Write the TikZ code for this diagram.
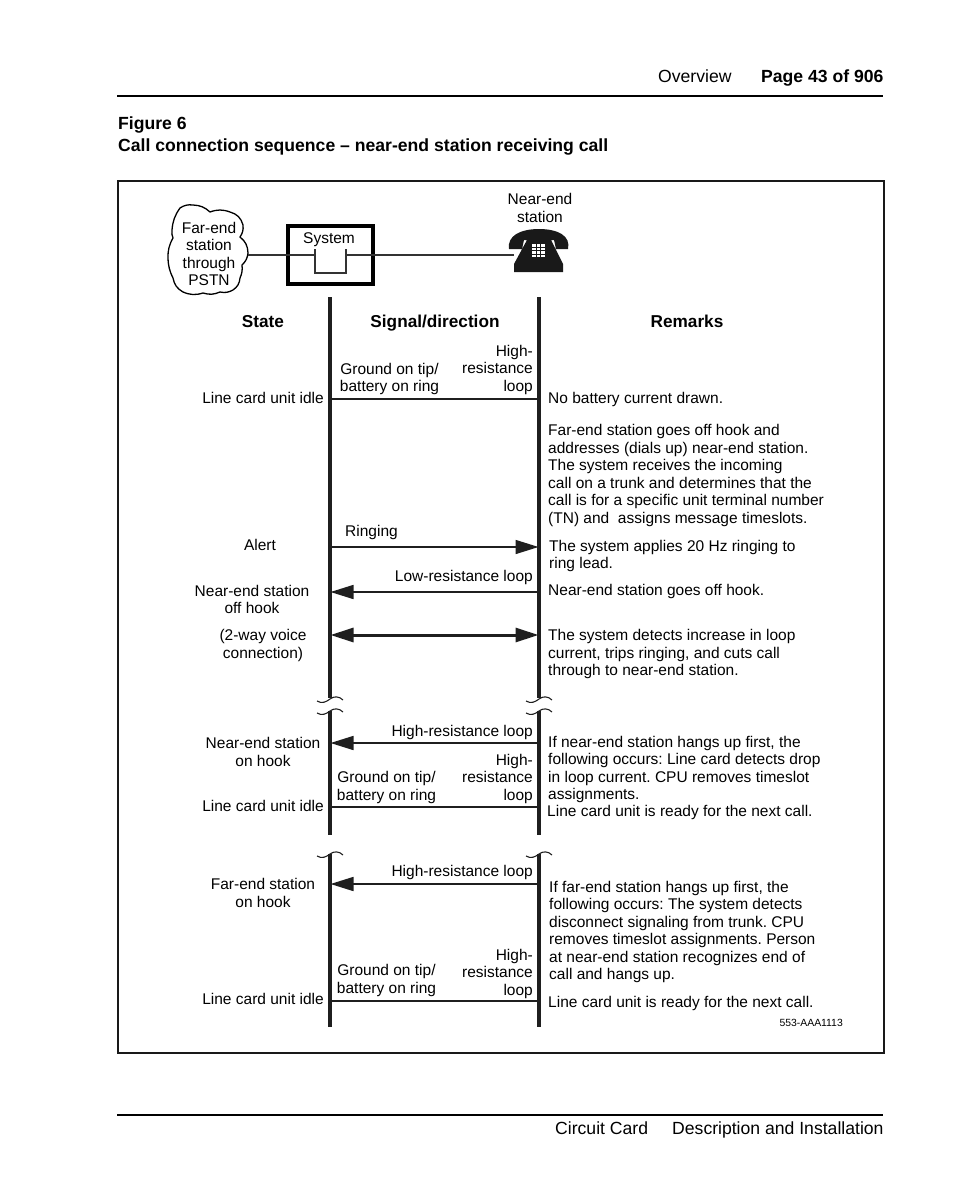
\documentclass[tikz,border=0pt]{standalone}
\usepackage{fontspec}
\setmainfont{Liberation Sans}
\usetikzlibrary{arrows.meta,positioning}
\newcommand{\linestrut}{\rule[-3.5pt]{0pt}{13.5pt}}
\tikzset{
    % Text in the diagram
    plaintext/.style={inner sep=0pt, yshift=-2pt, font=\fontsize{15.5}{17.5}\selectfont\frenchspacing,
        execute at begin node=\linestrut, execute at end node=\linestrut},
    lefttext/.style={plaintext, anchor=west, align=left},
    righttext/.style={plaintext, anchor=east, align=right},
    midtext/.style={plaintext, anchor=center, align=center},
    headtext/.style={plaintext, anchor=center, font=\fontsize{17.2}{20}\selectfont\bfseries},
    pagetext/.style={plaintext, anchor=west, font=\fontsize{17.6}{22}\selectfont},
    pagebold/.style={pagetext, font=\fontsize{17.6}{22}\selectfont\bfseries},
    lifeline/.style={line width=3.2pt, color=black!88},
    signal/.style={line width=1.6pt, color=black!88},
    voicesignal/.style={line width=3pt, color=black!88},
    signalarrow/.style={-{Triangle[length=23pt,width=14pt]}, shorten >=0.5pt},
    breakline/.style={line width=1.1pt, color=black!88},
    wire/.style={line width=1.3pt, color=black!80},
    rule/.style={line width=1.6pt, color=black}
}
\newcommand{\breakmark}[2]{
    \draw[breakline] (#1-13,#2+2) .. controls (#1-8,#2+5) and (#1-4,#2+3) .. (#1,#2)
        .. controls (#1+4,#2-3) and (#1+9,#2-3) .. (#1+13,#2+1);
}
\begin{document}
\begin{tikzpicture}[x=1pt,y=-1pt]
    \useasboundingbox (0,0) rectangle (954,1202);

    % Page header and footer
    \node[pagetext] (overview) at (658,76) {Overview};
    \node[pagebold] (page) at (761,76) {Page 43 of 906};
    \coordinate (ruletopL) at (117,96);
    \coordinate (ruletopR) at (883,96);
    \draw[rule] (ruletopL) -- (ruletopR);
    \node[pagebold] (figno) at (118,123) {Figure 6};
    \node[pagebold] (figtitle) at (118,145) {Call connection sequence – near-end station receiving call};
    \coordinate (rulebotL) at (117,1115);
    \coordinate (rulebotR) at (883,1115);
    \draw[rule] (rulebotL) -- (rulebotR);
    \node[pagetext] (card) at (555,1128) {Circuit Card};
    \node[pagetext] (descr) at (672,1128) {Description and Installation};

    % Frame
    \draw[line width=1.8pt, color=black!90] (118,181) rectangle (884,1053);

    % Cloud, system and telephone
    \draw[line width=1.3pt]
        (180,208) to[bend left=20] (193,205) to[bend left=20] (210,212) to[bend left=20] (230,212)
        to[bend left=30] (243,225) to[bend left=20] (240,237) to[bend left=25] (248,253)
        to[bend left=20] (242,265) to[bend left=15] (240,278) to[bend left=25] (233,290)
        to[bend left=20] (220,292) to[bend left=20] (203,293) to[bend left=20] (183,292)
        to[bend left=25] (173,278) to[bend left=12] (168,258) to[bend left=15] (173,238)
        to[bend left=15] (172,230) to[bend left=15] cycle;
    \node[midtext] (farend) at (209,253.5) {Far-end\\station\\through\\PSTN};
    \node[midtext] (system) at (329,238) {System};
    \draw[line width=3.5pt] (288,226) rectangle (373,284);
    \node[midtext] (nearend) at (540,207.5) {Near-end\\station};

    \coordinate (cloudout) at (248,255);
    \coordinate (swL) at (315,255);
    \coordinate (swR) at (346,255);
    \coordinate (phone) at (514,255);
    \draw[wire] (cloudout) -- (swL);
    \draw[wire] (swR) -- (phone);
    \draw[wire] (315,249) -- (315,273) -- (346,273) -- (346,249);

    \fill[black!90] (509,249) .. controls (507,236) and (520,229) .. (539,229)
        .. controls (558,229) and (571,236) .. (568,249)
        -- (556,249) -- (554,240) -- (551,240) -- (563,264) -- (563,272) -- (514,272) -- (514,264)
        -- (527,240) -- (524,240) -- (522,249) -- cycle;
    \fill[white] (532,244) rectangle (545,257);
    \foreach \k in {1,2} {
        \draw[black!90, line width=0.5pt] (532+4.33*\k,244) -- (532+4.33*\k,257);
    }
    \foreach \k in {1,2,3} {
        \draw[black!90, line width=0.5pt] (532,244+3.25*\k) -- (545,244+3.25*\k);
    }

    % Column heads
    \node[headtext] (state) at (263,321) {State};
    \node[headtext] (sigdir) at (435,321) {Signal/direction};
    \node[headtext] (remarks) at (687,321) {Remarks};

    % Lifelines
    \foreach \name/\x in {L/330,R/539} {
        \coordinate (top\name) at (\x,297);
        \coordinate (breaka\name) at (\x,698);
        \coordinate (breakb\name) at (\x,711);
        \coordinate (endb\name) at (\x,835);
        \coordinate (topc\name) at (\x,854);
        \coordinate (endc\name) at (\x,1027);
        \draw[lifeline] (top\name) -- (breaka\name);
        \draw[lifeline] (breakb\name) -- (endb\name);
        \draw[lifeline] (topc\name) -- (endc\name);
        \breakmark{\x}{699}
        \breakmark{\x}{711}
        \breakmark{\x}{854}
    }

    % Signals
    \foreach \name/\y in {idle/399,ring/547,low/592,voice/635,higha/743,idleb/807,highb/884,idlec/1001} {
        \coordinate (\name L) at (330,\y);
        \coordinate (\name R) at (539,\y);
    }
    \draw[signal] (idleL) -- (idleR);
    \draw[signal, signalarrow] (ringL) -- (ringR);
    \draw[signal, signalarrow] (lowR) -- (lowL);
    \draw[voicesignal, {Triangle[length=23pt,width=14pt]}-{Triangle[length=23pt,width=14pt]}, shorten >=0.5pt, shorten <=0.5pt] (voiceL) -- (voiceR);
    \draw[signal, signalarrow] (highaR) -- (highaL);
    \draw[signal] (idlebL) -- (idlebR);
    \draw[signal, signalarrow] (highbR) -- (highbL);
    \draw[signal] (idlecL) -- (idlecR);

    % State labels
    \node[righttext] (idlea) at (324,398) {Line card unit idle};
    \node[midtext] (alert) at (260,545) {Alert};
    \node[midtext] (offhook) at (252,599) {Near-end station\\off hook};
    \node[midtext] (twoway) at (263,643.5) {(2-way voice\\connection)};
    \node[midtext] (nearon) at (263,751.5) {Near-end station\\on hook};
    \node[righttext] (idleblabel) at (324,806) {Line card unit idle};
    \node[midtext] (faron) at (263,892.5) {Far-end station\\on hook};
    \node[righttext] (idleclabel) at (324,999) {Line card unit idle};

    % Signal labels
    \node[righttext] (hiresa) at (533,368) {High-\\resistance\\loop};
    \node[midtext] (grounda) at (389.5,377) {Ground on tip/\\battery on ring};
    \node[lefttext] (ringing) at (345,531) {Ringing};
    \node[righttext] (lowres) at (533,576) {Low-resistance loop};
    \node[righttext] (hiresb) at (533,731) {High-resistance loop};
    \node[righttext] (hiresc) at (533,777) {High-\\resistance\\loop};
    \node[midtext] (groundb) at (386.5,785.5) {Ground on tip/\\battery on ring};
    \node[righttext] (hiresd) at (533,871) {High-resistance loop};
    \node[righttext] (hirese) at (533,972) {High-\\resistance\\loop};
    \node[midtext] (groundc) at (386.5,978.5) {Ground on tip/\\battery on ring};

    % Remarks
    \node[lefttext] (rema) at (548,398) {No battery current drawn.};
    \node[lefttext] (remb) at (548,473.5) {Far-end station goes off hook and\\addresses (dials up) near-end station.\\The system receives the incoming\\call on a trunk and determines that the\\call is for a specific unit terminal number\\(TN) and\ \ assigns message timeslots.};
    \node[lefttext] (remc) at (549,554) {The system applies 20 Hz ringing to\\ring lead.};
    \node[lefttext] (remd) at (548,590) {Near-end station goes off hook.};
    \node[lefttext] (reme) at (548,652.5) {The system detects increase in loop\\current, trips ringing, and cuts call\\through to near-end station.};
    \node[lefttext] (remf) at (548,767.5) {If near-end station hangs up first, the\\following occurs: Line card detects drop\\in loop current. CPU removes timeslot\\assignments.};
    \node[lefttext] (remg) at (547,811) {Line card unit is ready for the next call.};
    \node[lefttext] (remh) at (549,930) {If far-end station hangs up first, the\\following occurs: The system detects\\disconnect signaling from trunk. CPU\\removes timeslot assignments. Person\\at near-end station recognizes end of\\call and hangs up.};
    \node[lefttext] (remi) at (548,1002) {Line card unit is ready for the next call.};
    \node[righttext, font=\fontsize{10.4}{12}\selectfont] (code) at (843,1021) {553-AAA1113};
\end{tikzpicture}
\end{document}
